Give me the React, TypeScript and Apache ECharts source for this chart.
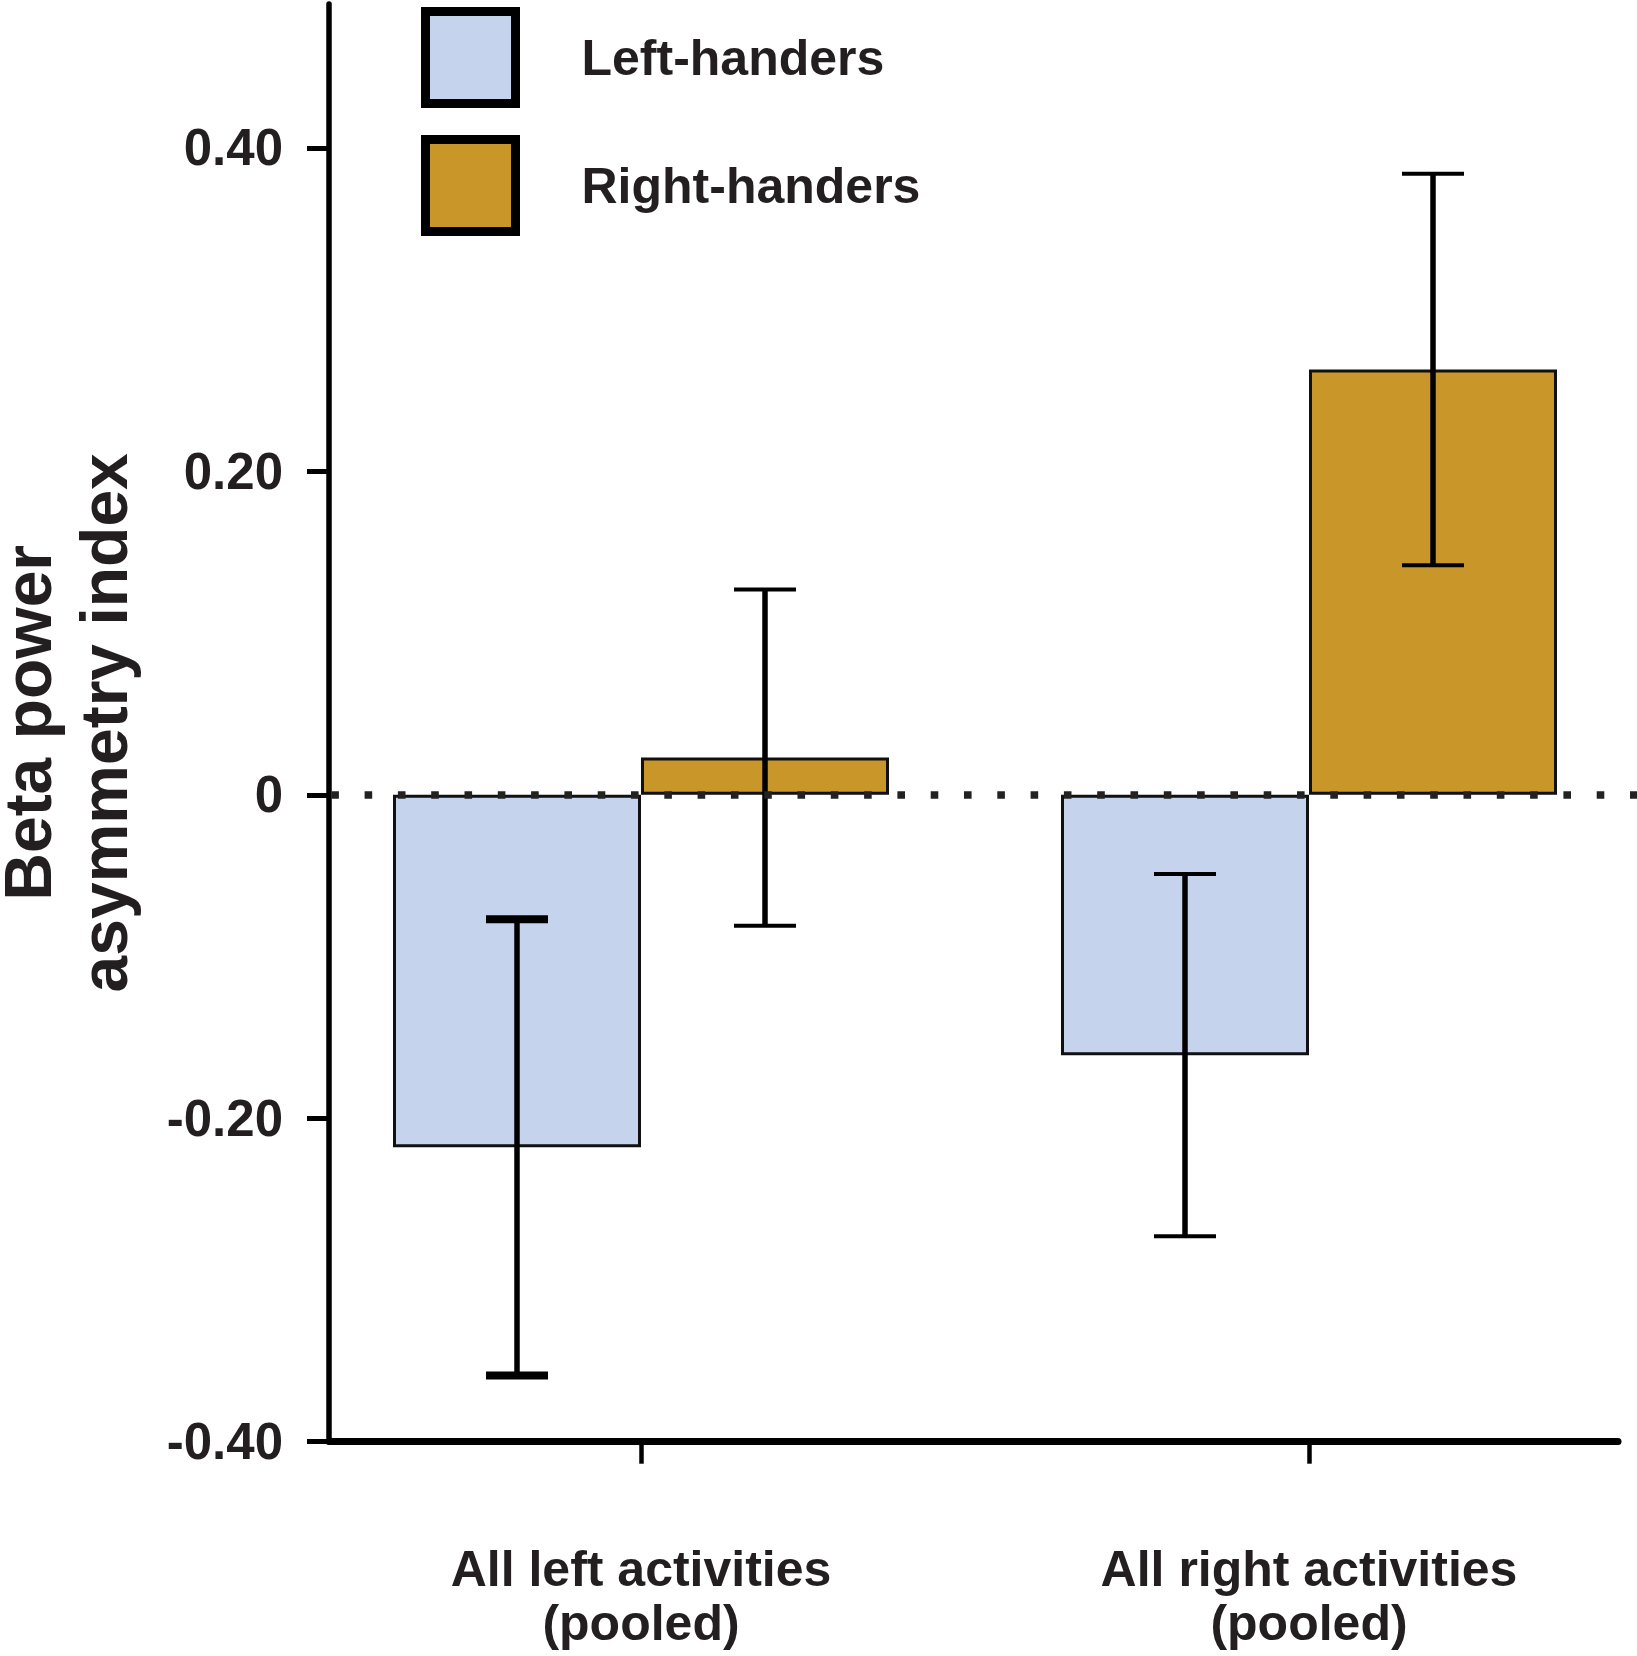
import React, { useEffect, useRef } from "react";
import * as echarts from "echarts";

const CATEGORIES = ["All left activities\n(pooled)", "All right activities\n(pooled)"];
const SERIES_NAMES = ["Left-handers", "Right-handers"];
const LEFT_MEAN = [-0.218, -0.161];
const LEFT_SEM = [0.141, 0.112];
const RIGHT_MEAN = [0.023, 0.263];
const RIGHT_SEM = [0.104, 0.121];
const Y_TICKS = [-0.4, -0.2, 0, 0.2, 0.4];
const Y_MIN = -0.4;
const Y_MAX = 0.489;
const Y_TITLE = ["Beta power", "asymmetry index"];

// styles
const FONT = "'Liberation Sans', Arial, Helvetica, sans-serif";
const TEXT_COLOR = "#231f20";
const LEFT_COLOR = "#c5d3ec";
const RIGHT_COLOR = "#c9962a";
const BAR_W = 248;
const CAP_HALF = 31;
const CAP_LINE = [
  [8, 4],
  [4, 4],
];

const GRID_TOP = 4;
const GRID_BOTTOM = 1656 - 1441.7;

export default function App() {
  const ref = useRef<HTMLDivElement>(null);

  useEffect(() => {
    document.body.style.margin = "0";
    if (!ref.current) return;
    const chart = echarts.init(ref.current, null, { renderer: "svg" });

    const errData = (mean: number[], sem: number[]) =>
      mean.map((m, i) => [i, m - sem[i], m + sem[i]]);

    const makeErr = (name: string, mean: number[], sem: number[], si: number, sign: number) => ({
      type: "custom",
      name: name + " SEM",
      xAxisIndex: 0,
      yAxisIndex: 0,
      z: 10,
      silent: true,
      data: errData(mean, sem),
      renderItem: (params: any, api: any) => {
        const c = api.value(0);
        const lo = api.coord([c, api.value(1)]);
        const hi = api.coord([c, api.value(2)]);
        const x = lo[0] + (sign * BAR_W) / 2;
        const capW = CAP_LINE[si][params.dataIndex];
        return {
          type: "group",
          children: [
            {
              type: "line",
              shape: { x1: x, y1: lo[1], x2: x, y2: hi[1] },
              style: { stroke: "#000", lineWidth: 5.5 },
            },
            {
              type: "line",
              shape: { x1: x - CAP_HALF, y1: lo[1], x2: x + CAP_HALF, y2: lo[1] },
              style: { stroke: "#000", lineWidth: capW },
            },
            {
              type: "line",
              shape: { x1: x - CAP_HALF, y1: hi[1], x2: x + CAP_HALF, y2: hi[1] },
              style: { stroke: "#000", lineWidth: capW },
            },
          ],
        };
      },
    });

    const titleStyle = {
      fontFamily: FONT,
      fontSize: 66,
      fontWeight: "bold",
      color: TEXT_COLOR,
    };

    const option: any = {
      animation: false,
      backgroundColor: "#ffffff",
      textStyle: { fontFamily: FONT },
      legend: {
        data: SERIES_NAMES,
        orient: "vertical",
        left: 416,
        top: 2,
        padding: 5,
        itemWidth: 90,
        itemHeight: 92,
        itemGap: 27,
        icon: "rect",
        selectedMode: false,
        itemStyle: { borderColor: "#000", borderWidth: 9 },
        textStyle: {
          fontFamily: FONT,
          fontSize: 50,
          fontWeight: "bold",
          color: TEXT_COLOR,
          padding: [0, 0, 0, 61],
        },
      },
      grid: [
        {
          left: 307,
          width: 1336,
          top: GRID_TOP,
          bottom: GRID_BOTTOM,
          containLabel: false,
          outerBoundsMode: "none",
        },
        {
          left: 329,
          width: 1289,
          top: GRID_TOP,
          bottom: GRID_BOTTOM,
          containLabel: false,
          outerBoundsMode: "none",
        },
      ],
      xAxis: [
        {
          type: "category",
          gridIndex: 0,
          data: CATEGORIES,
          axisLine: { show: false, onZero: false },
          axisTick: {
            show: true,
            alignWithLabel: true,
            length: 22,
            lineStyle: { color: "#000", width: 4.5 },
          },
          axisLabel: {
            margin: 100,
            fontFamily: FONT,
            fontSize: 50,
            fontWeight: "bold",
            color: TEXT_COLOR,
            lineHeight: 54,
          },
          splitLine: { show: false },
        },
        {
          type: "value",
          gridIndex: 1,
          min: 0,
          max: 1,
          axisLine: { show: true, onZero: false, lineStyle: { color: "#000", width: 7 } },
          axisTick: { show: false },
          axisLabel: { show: false },
          splitLine: { show: false },
        },
      ],
      yAxis: [
        {
          type: "value",
          gridIndex: 0,
          min: Y_MIN,
          max: Y_MAX,
          show: false,
          splitLine: { show: false },
        },
        {
          type: "value",
          gridIndex: 1,
          min: Y_MIN,
          max: Y_MAX,
          name: `{a|${Y_TITLE[0]}}\n{b|${Y_TITLE[1]}}`,
          nameLocation: "middle",
          nameRotate: 90,
          nameGap: 177,
          nameTextStyle: {
            ...titleStyle,
            rich: {
              a: { ...titleStyle, lineHeight: 56 },
              b: { ...titleStyle, lineHeight: 96 },
            },
          },
          axisLine: { show: true, onZero: false, lineStyle: { color: "#000", width: 5.5 } },
          axisTick: {
            show: true,
            length: 22,
            customValues: Y_TICKS,
            lineStyle: { color: "#000", width: 5 },
          },
          axisLabel: {
            customValues: Y_TICKS,
            margin: 46,
            fontFamily: FONT,
            fontSize: 51,
            fontWeight: "bold",
            color: TEXT_COLOR,
            formatter: (v: number) => (Math.abs(v) < 1e-9 ? "0" : v.toFixed(2)),
          },
          splitLine: { show: false },
        },
      ],
      series: [
        {
          type: "bar",
          name: SERIES_NAMES[0],
          xAxisIndex: 0,
          yAxisIndex: 0,
          data: LEFT_MEAN,
          barWidth: BAR_W,
          barGap: "0%",
          itemStyle: { color: LEFT_COLOR, borderColor: "#111", borderWidth: 3 },
          markLine: {
            silent: true,
            symbol: "none",
            label: { show: false },
            lineStyle: {
              color: "#222",
              width: 7.5,
              type: [7.6, 25.7],
              dashOffset: 9.3,
            },
            data: [{ yAxis: 0 }],
            z: 12,
          },
        },
        {
          type: "bar",
          name: SERIES_NAMES[1],
          xAxisIndex: 0,
          yAxisIndex: 0,
          data: RIGHT_MEAN,
          barWidth: BAR_W,
          barGap: "0%",
          itemStyle: { color: RIGHT_COLOR, borderColor: "#111", borderWidth: 3 },
        },
        makeErr(SERIES_NAMES[0], LEFT_MEAN, LEFT_SEM, 0, -1),
        makeErr(SERIES_NAMES[1], RIGHT_MEAN, RIGHT_SEM, 1, 1),
      ],
    };

    chart.setOption(option);
    return () => chart.dispose();
  }, []);

  return <div ref={ref} style={{ width: 1637, height: 1656 }} />;
}
